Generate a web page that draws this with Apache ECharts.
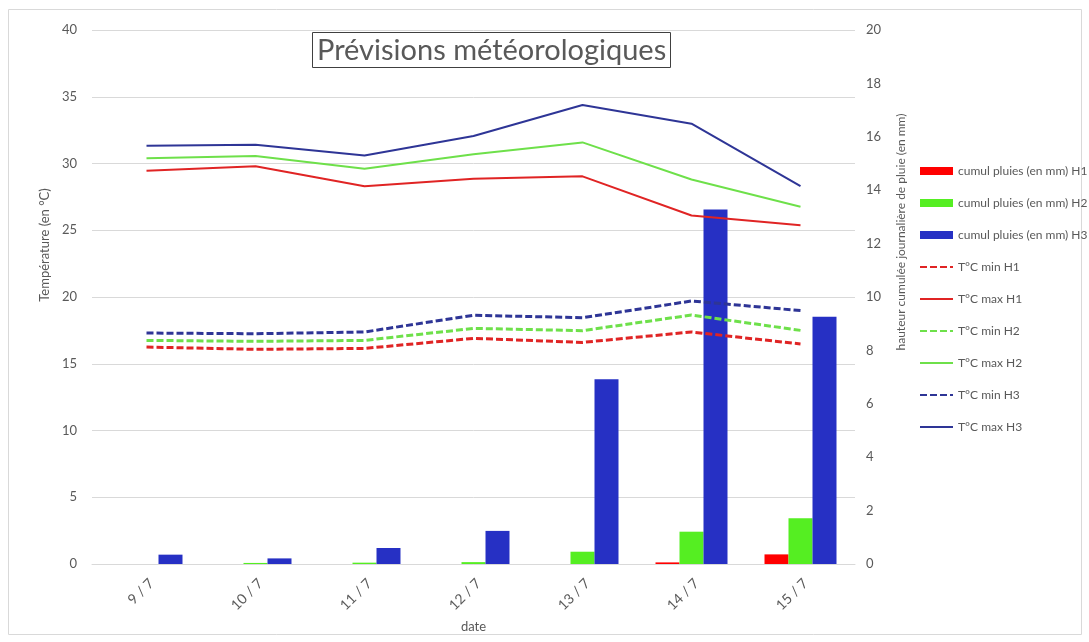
<!DOCTYPE html>
<html>
<head>
<meta charset="utf-8">
<script src="https://cdn.jsdelivr.net/npm/echarts@6/dist/echarts.min.js"></script>
<style>html,body{margin:0;padding:0;background:#fff}#c{width:1089px;height:642px}</style>
</head>
<body>
<div id="c"></div>
<script>
const categories = ['9 / 7', '10 / 7', '11 / 7', '12 / 7', '13 / 7', '14 / 7', '15 / 7'];
const pluieH1 = [0, 0, 0, 0, 0, 0.06, 0.36];
const pluieH2 = [0, 0.04, 0.05, 0.07, 0.46, 1.21, 1.71];
const pluieH3 = [0.35, 0.21, 0.6, 1.24, 6.92, 13.28, 9.26];
const minH1 = [16.25, 16.08, 16.15, 16.9, 16.6, 17.38, 16.48];
const maxH1 = [29.46, 29.8, 28.3, 28.86, 29.04, 26.1, 25.37];
const minH2 = [16.75, 16.68, 16.75, 17.65, 17.48, 18.65, 17.5];
const maxH2 = [30.4, 30.56, 29.6, 30.7, 31.58, 28.8, 26.76];
const minH3 = [17.3, 17.25, 17.38, 18.63, 18.45, 19.7, 18.98];
const maxH3 = [31.33, 31.4, 30.6, 32.06, 34.38, 32.98, 28.3];

const FONT = 'Lato';
const TXT = '#595959';
const chart = echarts.init(document.getElementById('c'));

function bar(name, data, color) {
  return { name, type: 'bar', yAxisIndex: 1, data, barWidth: 24, barGap: '0%',
    itemStyle: { color } };
}
function line(name, data, color, dashed) {
  return { name, type: 'line', yAxisIndex: 0, data, symbol: 'none', smooth: false,
    lineStyle: { color, width: dashed ? 3 : 2, type: dashed ? [7, 3] : 'solid' },
    itemStyle: { color } };
}
function lineLegend(name) {
  return { name, itemStyle: { opacity: 0 } };
}

chart.setOption({
  animation: false,
  textStyle: { fontFamily: FONT },
  graphic: [{ type: 'rect', shape: { x: 8.5, y: 9.5, width: 1073, height: 625 },
    style: { fill: 'none', stroke: '#d9d9d9', lineWidth: 1 }, silent: true }],
  title: {
    text: 'Prévisions météorologiques', left: 312, top: 32,
    borderColor: '#404040', borderWidth: 1, padding: [4, 5, 3, 5],
    textStyle: { fontFamily: FONT, fontSize: 29, fontWeight: 'normal', color: TXT }
  },
  legend: {
    orient: 'vertical', left: 914, top: 159, itemWidth: 33, itemHeight: 8, itemGap: 18,
    textStyle: { fontFamily: FONT, fontSize: 12, color: TXT, lineHeight: 14 },
    data: [
      { name: 'cumul pluies (en mm) H1', icon: 'rect' },
      { name: 'cumul pluies (en mm) H2', icon: 'rect' },
      { name: 'cumul pluies (en mm) H3', icon: 'rect' },
      lineLegend('T°C min H1'), lineLegend('T°C max H1'),
      lineLegend('T°C min H2'), lineLegend('T°C max H2'),
      lineLegend('T°C min H3'), lineLegend('T°C max H3')
    ]
  },
  grid: { left: 92, right: 234, top: 30, bottom: 78 },
  xAxis: {
    type: 'category', data: categories, name: 'date', nameLocation: 'middle', nameGap: 56,
    nameTextStyle: { fontFamily: FONT, fontSize: 13, color: TXT },
    axisLine: { lineStyle: { color: '#d9d9d9' } }, axisTick: { show: false },
    axisLabel: { rotate: 45, fontFamily: FONT, fontSize: 14, color: TXT, margin: 12,
      verticalAlign: 'top' }
  },
  yAxis: [{
    type: 'value', min: 0, max: 40, interval: 5, name: 'Température (en °C)',
    nameLocation: 'middle', nameGap: 33, nameRotate: 90,
    nameTextStyle: { fontFamily: FONT, fontSize: 13, color: TXT, padding: [0, 0, 0, 104] },
    axisLine: { show: false }, axisTick: { show: false },
    axisLabel: { fontFamily: FONT, fontSize: 13, color: TXT, margin: 15 },
    splitLine: { lineStyle: { color: '#d9d9d9' } }
  }, {
    type: 'value', min: 0, max: 20, interval: 2, position: 'right',
    name: 'hauteur cumulée journalière de pluie (en mm)',
    nameLocation: 'middle', nameGap: 40, nameRotate: 90,
    nameTextStyle: { fontFamily: FONT, fontSize: 12, color: TXT, padding: [0, 0, 0, 130] },
    axisLine: { show: false }, axisTick: { show: false },
    axisLabel: { fontFamily: FONT, fontSize: 13, color: TXT, margin: 11 },
    splitLine: { show: false }
  }],
  series: [
    bar('cumul pluies (en mm) H1', pluieH1, '#ff0000'),
    bar('cumul pluies (en mm) H2', pluieH2, '#55ee22'),
    bar('cumul pluies (en mm) H3', pluieH3, '#2630c4'),
    line('T°C min H1', minH1, '#e02424', true),
    line('T°C max H1', maxH1, '#e02424', false),
    line('T°C min H2', minH2, '#6ee04a', true),
    line('T°C max H2', maxH2, '#6ee04a', false),
    line('T°C min H3', minH3, '#2e3596', true),
    line('T°C max H3', maxH3, '#2e3596', false)
  ]
});
</script>
</body>
</html>
